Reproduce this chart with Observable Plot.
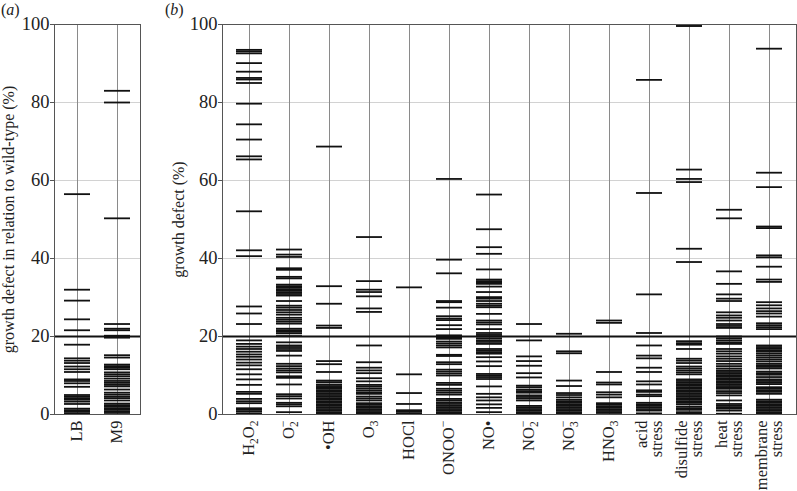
<!DOCTYPE html>
<html><head><meta charset="utf-8">
<script src="https://cdn.jsdelivr.net/npm/d3@7"></script>
<script src="https://cdn.jsdelivr.net/npm/@observablehq/plot@0.6"></script>
<style>
body{margin:0;background:#fff;font-family:"Liberation Serif",serif;}
#wrap{position:relative;width:797px;height:491px;overflow:hidden;background:#fff}
#wrap svg{position:absolute;top:0;background:transparent}
.plab{position:absolute;top:1px;font-size:16px;line-height:18px;font-family:"Liberation Serif",serif;color:#222}
</style></head><body><div id="wrap"></div>
<script>
// ---------- panel (a) ----------
const catsA = ["LB", "M9"];
const LB = [56.5, 32, 29.2, 24.4, 21.6, 17.9, 14.4, 13.8, 13.2, 12.3, 11.6, 10.9, 9.0, 8.6, 8.0, 7.1,
  5.0, 4.6, 4.2, 3.8, 3.3, 2.7, 1.5, 1.1, 0.7, 0.3];
const M9 = [83, 80, 50.3, 23.2, 22.0, 21.6, 20.2, 19.7, 15.2, 14.6, 12.8, 12.4, 12.0, 11.6, 10.8, 10.3,
  9.8, 9.2, 8.6, 8.1, 7.6, 7.2, 6.4, 5.6, 5.1, 4.6, 4.2, 3.6, 2.8, 2.4, 2.0, 1.6, 1.2, 0.8, 0.4];

// ---------- panel (b) ----------
const catsB = ["H2O2", "O2-", "•OH", "O3", "HOCl", "ONOO-", "NO•", "NO2-", "NO3-", "HNO3",
  "acid\nstress", "disulfide\nstress", "heat\nstress", "membrane\nstress"];
const H2O2 = [93.5, 93.1, 92.6, 90.1, 87.9, 86.3, 85.9, 85.0, 79.7, 74.4, 70.5, 66.2, 65.4, 52.1, 42.1, 40.6,
  27.7, 25.9, 23.2, 19.0, 18.1, 17.4, 16.8, 16.1, 15.4, 14.8, 14.1, 13.3, 12.6, 11.6, 10.3, 9.0, 7.6,
  5.8, 5.3, 4.0, 3.4, 2.9, 1.6, 1.2, 0.8, 0.3];
const O2 = [42.3, 41.0, 40.4, 37.5, 37.1, 35.3, 34.9, 33.3, 32.9, 32.5, 32.1, 31.7, 31.3, 30.9, 30.5, 29.1,
  27.9, 27.4, 26.8, 26.2, 25.6, 24.8, 24.3, 23.8, 23.3, 22.0, 21.6, 21.2, 20.8, 20.1, 18.5, 17.7, 17.3,
  16.8, 16.3, 15.1, 13.0, 12.4, 11.8, 11.3, 10.8, 9.8, 9.4, 7.7, 5.2, 4.7, 4.1, 3.0, 2.6, 2.1, 0.6];
const OH = [68.7, 32.9, 28.4, 22.8, 22.2, 13.7, 12.9, 10.9, 8.7, 8.3, 7.7, 7.3, 7.0, 6.6,
  6.2, 5.8, 5.4, 5.0, 4.6, 4.2, 3.8, 3.4, 3.0, 2.6, 2.2, 1.8, 1.4, 1.0, 0.6, 0.2];
const O3 = [45.5, 34.2, 32.0, 31.4, 30.3, 27.2, 26.3, 17.7, 13.4, 12.0, 11.3, 10.6, 9.3, 8.5, 7.6, 7.2,
  6.7, 6.2, 5.7, 5.3, 4.6, 4.1, 3.6, 2.9, 2.5, 2.1, 1.7, 1.3, 0.9, 0.5, 0.2];
const HOCl = [32.6, 10.3, 5.5, 2.7, 1.1, 0.7, 0.3];
const ONOO = [60.4, 39.7, 36.2, 29.1, 28.8, 27.4, 25.2, 24.6, 24.2, 22.9, 21.9, 20.3, 19.8, 19.4, 18.7,
  18.2, 17.7, 17.2, 15.3, 15.0, 13.4, 12.9, 11.5, 11.0, 10.5, 10.0, 8.1, 7.6, 6.6, 6.1, 5.6, 5.1, 4.0,
  3.6, 3.1, 2.7, 2.2, 1.8, 1.4, 1.0, 0.6, 0.2];
const NO = [56.4, 47.5, 42.9, 41.2, 37.2, 34.6, 34.2, 33.8, 33.5, 32.8, 31.4, 30.1, 29.7, 29.1, 28.4, 27.9,
  27.5, 25.8, 24.1, 23.6, 23.1, 21.9, 20.9, 20.4, 20.0, 19.5, 19.0, 18.6, 18.1, 16.8, 16.4, 16.0, 15.6,
  14.7, 13.6, 12.4, 10.4, 10.0, 9.6, 9.1, 7.2, 5.3, 4.4, 3.6, 2.6, 1.7, 0.6];
const NO2 = [23.2, 19.0, 14.9, 13.7, 12.5, 10.6, 9.5, 7.4, 7.0, 6.4, 6.0, 5.6, 4.9, 4.5, 4.1, 3.6, 2.2, 1.8,
  1.4, 1.0, 0.6, 0.2];
const NO3 = [20.7, 16.2, 15.7, 8.7, 7.3, 5.5, 5.0, 4.4, 3.8, 3.4, 3.0, 2.6, 2.2, 1.8, 1.4, 1.0, 0.6, 0.2];
const HNO3 = [24.1, 23.5, 10.9, 8.2, 7.7, 5.7, 5.1, 4.4, 2.9, 2.5, 2.1, 1.7, 1.3, 0.9, 0.5, 0.1];
const ACID = [85.8, 56.8, 30.8, 20.9, 17.7, 15.1, 14.4, 12.0, 10.9, 8.5, 7.7, 6.2, 5.8, 5.1, 4.7, 3.0, 2.6,
  2.3, 1.9, 1.4, 1.0, 0.3];
const DISULFIDE = [99.9, 99.6, 62.8, 60.4, 59.6, 42.5, 39.1, 18.8, 18.3, 17.9, 16.8, 14.3, 13.8, 13.2, 12.3,
  11.8, 11.3, 10.8, 10.3, 9.0, 8.6, 8.2, 7.8, 7.4, 7.0, 6.6, 6.2, 5.8, 5.4, 5.0, 4.6, 4.2, 3.8, 3.4, 3.0,
  2.6, 2.0, 1.6, 1.2, 0.6, 0.2];
const HEAT = [52.5, 50.3, 36.7, 33.5, 30.8, 29.7, 29.1, 26.2, 25.4, 24.8, 24.1, 23.2, 22.7, 22.2, 20.0, 19.5,
  19.0, 18.5, 18.1, 16.8, 16.2, 15.6, 14.9, 14.3, 13.7, 13.0, 12.4, 11.8, 11.3, 10.9, 10.5, 10.1, 9.7,
  9.3, 8.9, 8.5, 8.1, 7.7, 7.3, 6.9, 6.6, 6.0, 5.5, 4.9, 3.6, 2.7, 2.3, 1.9, 1.5, 1.0, 0.2];
const MEMBRANE = [93.8, 62.0, 58.3, 48.2, 47.8, 40.8, 40.3, 37.9, 34.6, 34.0, 28.8, 28.0, 27.2, 26.5, 25.9,
  25.1, 23.4, 22.9, 22.4, 21.9, 17.7, 17.3, 16.9, 16.5, 16.1, 15.6, 15.1, 14.6, 14.1, 13.6, 13.0, 12.6,
  12.2, 11.8, 11.0, 10.6, 10.2, 9.6, 9.0, 8.6, 8.2, 7.8, 7.0, 6.6, 6.2, 5.8, 5.3, 3.8, 3.4, 3.0, 2.6,
  2.2, 1.8, 1.4, 1.0, 0.6, 0.2];

const yTicks = [0, 20, 40, 60, 80, 100];
const gridLevels = [20, 40, 60, 80];
const threshold = [20];
const titleA = "growth defect in relation to wild-type (%)";
const titleB = "growth defect (%)";

// label markup: [text, kind]
const labelMarkup = {
  "H2O2": [["H",""],["2","sub"],["O",""],["2","sub"]],
  "O2-": [["O",""],["2","sub"],["\u2212","stack"]],
  "O3": [["O",""],["3","sub"]],
  "ONOO-": [["ONOO",""],["\u2212","sup"]],
  "NO2-": [["NO",""],["2","sub"],["\u2212","stack"]],
  "NO3-": [["NO",""],["3","sub"],["\u2212","stack"]],
  "HNO3": [["HNO",""],["3","sub"]]
};

const seriesA = [LB, M9];
const seriesB = [H2O2, O2, OH, O3, HOCl, ONOO, NO, NO2, NO3, HNO3, ACID, DISULFIDE, HEAT, MEMBRANE];
const flat = (cats, series) => cats.flatMap((c, i) => series[i].map(v => ({cat: c, v})));

function panel(cats, series, opts) {
  return Plot.plot({
    width: opts.width, height: 491,
    marginTop: 24, marginBottom: 77, marginLeft: opts.ml, marginRight: opts.mr,
    style: {fontFamily: "Liberation Serif, Times New Roman, serif", fontSize: "17px", color: "#222", background: "transparent"},
    x: {domain: cats, type: "band", paddingInner: 0.34, paddingOuter: opts.po, align: 0.5, label: null},
    y: {domain: [0, 100], label: null},
    marks: [
      Plot.ruleY(gridLevels, {stroke: "#d2d2d2", strokeWidth: 1}),
      Plot.gridX({stroke: "#8a8a8a", strokeOpacity: 1, strokeWidth: 1}),
      Plot.tickY(flat(cats, series), {x: "cat", y: "v", stroke: "#111", strokeWidth: 1.8}),
      Plot.ruleY(threshold, {stroke: "#111", strokeWidth: 2}),
      Plot.frame({stroke: "#555", strokeWidth: 1}),
      Plot.axisY({ticks: yTicks, tickSize: 4, tickPadding: 1, stroke: "#555", fontSize: 18.5,
        label: opts.title, labelAnchor: "center", labelArrow: "none", labelOffset: opts.lo}),
      Plot.axisX({tickSize: 0, tickPadding: 6, tickRotate: -90, fontSize: 16.5, lineHeight: 0.9, label: null})
    ]
  });
}

const wrap = document.getElementById("wrap");
const svgA = panel(catsA, seriesA, {width: 142, ml: 54, mr: 2, po: 0.219, title: titleA, lo: 52});
svgA.style.left = "0px";
const svgB = panel(catsB, seriesB, {width: 655, ml: 80, mr: 1, po: 0.195, title: titleB, lo: 50});
svgB.style.left = "142px";
wrap.appendChild(svgA);
wrap.appendChild(svgB);

const NS = "http://www.w3.org/2000/svg";
for (const svg of [svgA, svgB]) {
  svg.querySelectorAll('g[aria-label="y-axis label"] text').forEach(t => t.setAttribute("font-size", "16"));
  svg.querySelectorAll('g[aria-label="x-axis tick label"] text').forEach(t => {
    const key = t.textContent;
    const parts = labelMarkup[key];
    if (!parts) return;
    while (t.firstChild) t.removeChild(t.firstChild);
    let shift = 0;
    for (const [s, kind] of parts) {
      const ts = document.createElementNS(NS, "tspan");
      ts.textContent = s;
      let target = 0;
      if (kind === "sub") { ts.setAttribute("font-size", "11.5"); target = 4; }
      else if (kind === "sup") { ts.setAttribute("font-size", "12"); target = -7; }
      else if (kind === "stack") { ts.setAttribute("font-size", "12"); target = -7; ts.setAttribute("dx", "-6"); }
      ts.setAttribute("dy", String(target - shift));
      shift = target;
      t.appendChild(ts);
    }
  });
}

const la = document.createElement("div");
la.className = "plab"; la.style.left = "1px"; la.innerHTML = "(<i>a</i>)";
const lb = document.createElement("div");
lb.className = "plab"; lb.style.left = "165px"; lb.innerHTML = "(<i>b</i>)";
wrap.appendChild(la); wrap.appendChild(lb);
</script></body></html>
